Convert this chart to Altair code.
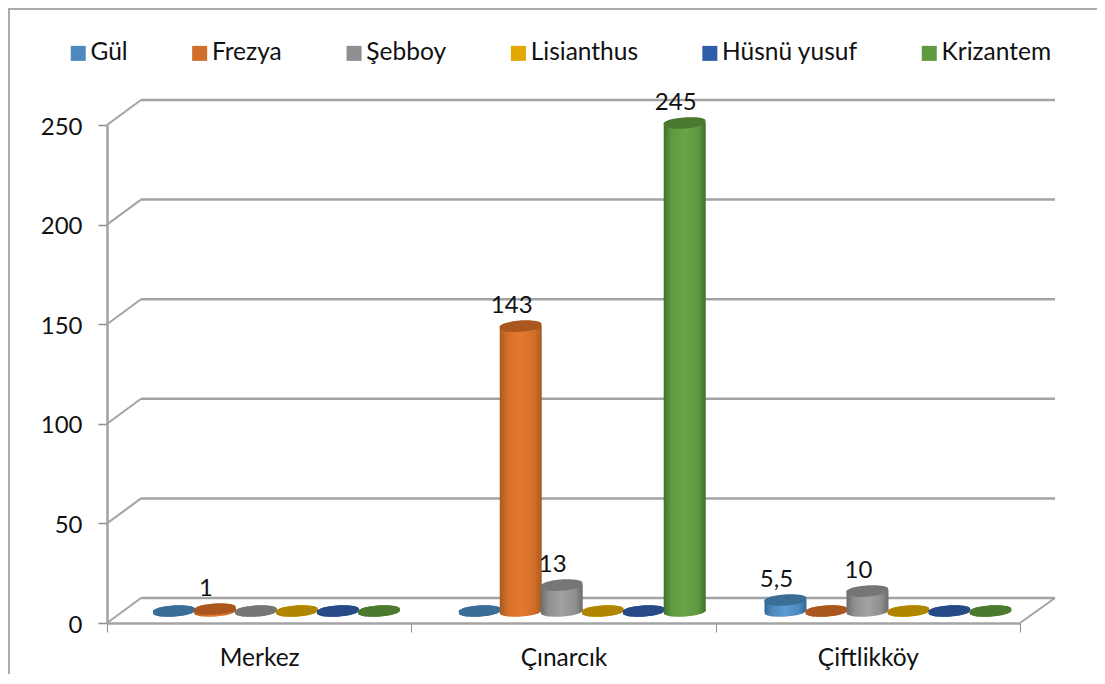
import altair as alt
import pandas as pd

categories = ["Merkez", "Çınarcık", "Çiftlikköy"]
series = ["Gül", "Frezya", "Şebboy", "Lisianthus", "Hüsnü yusuf", "Krizantem"]
values_by_series = {
    "Gül": [0, 0, 5.5],
    "Frezya": [1, 143, 0],
    "Şebboy": [0, 13, 10],
    "Lisianthus": [0, 0, 0],
    "Hüsnü yusuf": [0, 0, 0],
    "Krizantem": [0, 245, 0],
}
labels_by_series = {
    "Gül": ["", "", "5,5"],
    "Frezya": ["1", "143", ""],
    "Şebboy": ["", "13", "10"],
    "Lisianthus": ["", "", ""],
    "Hüsnü yusuf": ["", "", ""],
    "Krizantem": ["", "245", ""],
}
y_ticks = [0, 50, 100, 150, 200, 250]
mid_colors = ["#4F88BD", "#D26F2A", "#8F8F8F", "#E3A700", "#2F5CA8", "#5F9A3E"]
top_colors = ["#3A6E97", "#A9561F", "#767676", "#B08600", "#264A86", "#4B7A2F"]
edge_colors = ["#2F6A9C", "#A85A20", "#6C6C6C", "#A88000", "#1F4480", "#3F6F2E"]
light_colors = ["#5B9BD5", "#E6782F", "#A2A2A2", "#F5B800", "#3A6CC0", "#69A548"]

FONT = "Lato"
LINE = "#A3A3A3"
DEPTH = 12.55   # depth of the floor, in value units

rows = []
for s in series:
    for c, v, l in zip(categories, values_by_series[s], labels_by_series[s]):
        rows.append({"category": c, "series": s, "value": v, "label": l})
df = pd.DataFrame(rows)
ticks_df = pd.DataFrame({"tick": y_ticks})
ticks_df["back"] = ticks_df["tick"] + DEPTH

W, H = 913, 498
ELLIPSE = "M-0.98,0.07 A1,0.225 -4 1 1 0.98,-0.07 A1,0.225 -4 1 1 -0.98,0.07 Z"

# --- frame: axes, walls, floor ---
y_front = alt.Y("tick:Q", scale=alt.Scale(domain=[0, 250], nice=False),
                axis=alt.Axis(values=y_ticks, grid=False, title=None, tickSize=9,
                              tickColor="#8C8C8C", tickWidth=1.5, domainColor=LINE, domainWidth=2.5,
                              labelFont=FONT, labelFontSize=24, labelColor="#111111", labelPadding=16,
                              labelOffset=2))

axis_layer = alt.Chart(pd.DataFrame({"category": categories, "tick": [0, 0, 0]})).mark_rule(
    color=LINE, strokeWidth=2.5
).encode(
    x=alt.X("category:N", sort=categories, scale=alt.Scale(paddingInner=0, paddingOuter=0),
            axis=alt.Axis(title=None, labelAngle=0, tickBand="extent", tickSize=9, tickColor="#8C8C8C",
                          tickWidth=1, domainColor=LINE, domainWidth=2.5, labelFont=FONT,
                          labelFontSize=24.5, labelColor="#111111", labelPadding=14, grid=False)),
    y=y_front,
)

wall_base = alt.Chart(ticks_df)
back_lines = wall_base.mark_rule(color=LINE, strokeWidth=2.5).encode(
    x=alt.value(34), x2=alt.value(948), y=alt.Y("back:Q")
)
left_diag = wall_base.mark_rule(color=LINE, strokeWidth=2).encode(
    x=alt.value(0), x2=alt.value(34), y=alt.Y("tick:Q"), y2=alt.Y2("back:Q")
)
right_diag = wall_base.transform_filter("datum.tick === 0").mark_rule(color=LINE, strokeWidth=2).encode(
    x=alt.value(913), x2=alt.value(948), y=alt.Y("tick:Q"), y2=alt.Y2("back:Q")
)
border_top = alt.Chart(ticks_df.head(1)).mark_rule(color="#ABABAB", strokeWidth=2).encode(
    x=alt.value(-99), x2=alt.value(990), y=alt.value(-116)
)
border_left = alt.Chart(ticks_df.head(1)).mark_rule(color="#ABABAB", strokeWidth=2).encode(
    x=alt.value(-98), y=alt.value(-117), y2=alt.value(549)
)
frame = alt.layer(border_top, border_left, back_lines, right_diag, left_diag, axis_layer)

# --- cylinders ---
BAR_Y = alt.Scale(domain=[0, 250], range=[486, -12], nice=False)
x_bars = alt.X("category:N", sort=categories, axis=None,
               scale=alt.Scale(domain=categories, range=[16.6, 933.85], paddingInner=0, paddingOuter=0))
x_off = alt.XOffset("series:N", sort=series,
                    scale=alt.Scale(domain=series, paddingInner=0, paddingOuter=0.729))
y_bars = alt.Y("value:Q", axis=None, scale=BAR_Y)
y_zero = alt.Y("zero:Q", axis=None, scale=BAR_Y)

legend_layer = alt.Chart(df).mark_point(shape="square", filled=True, opacity=0, size=1).encode(
    x=x_bars, xOffset=x_off, y=y_zero,
    color=alt.Color("series:N", sort=series, scale=alt.Scale(domain=series, range=mid_colors),
                    legend=alt.Legend(orient="none", legendX=-41, legendY=-84, direction="horizontal",
                                      columns=6, title=None, symbolType="square", symbolSize=225,
                                      symbolStrokeWidth=0, symbolOpacity=1, labelFont=FONT,
                                      labelFontSize=24.5, labelColor="#111111", labelOffset=0,
                                      columnPadding=59.4, labelLimit=300, padding=0)),
).transform_calculate(zero="0")

layers = [legend_layer]
for s, edge, light, mid, top in zip(series, edge_colors, light_colors, mid_colors, top_colors):
    sdf = df[df["series"] == s]
    grad = alt.Gradient(gradient="linear", x1=0, x2=1, y1=0, y2=0, stops=[
        alt.GradientStop(offset=0, color=edge),
        alt.GradientStop(offset=0.18, color=mid),
        alt.GradientStop(offset=0.5, color=light),
        alt.GradientStop(offset=0.82, color=mid),
        alt.GradientStop(offset=1, color=edge),
    ])
    base = alt.Chart(sdf).transform_calculate(zero="0").mark_point(
        shape=ELLIPSE, filled=True, fill=grad, opacity=1, size=1764, strokeWidth=0
    ).encode(x=x_bars, xOffset=x_off, y=y_zero)
    body = alt.Chart(sdf[sdf["value"] > 0]).mark_bar(fill=grad, width=42, stroke=None).encode(
        x=x_bars, xOffset=x_off, y=y_bars
    )
    cap = alt.Chart(sdf).mark_point(shape=ELLIPSE, filled=True, opacity=1, size=1764, color=top).encode(
        x=x_bars, xOffset=x_off, y=y_bars
    )
    layers += [base, body, cap]

text_df = df[df["label"] != ""]
text_layer = alt.Chart(text_df).mark_text(
    font=FONT, fontSize=24, color="#111111", dx=-9, dy=-20, baseline="middle", align="center"
).encode(x=x_bars, xOffset=x_off, y=y_bars, text="label:N")
layers.append(text_layer)

cylinders = alt.layer(*layers)

chart = alt.layer(frame, cylinders).resolve_scale(x="independent", y="independent").properties(
    width=W, height=H,
    padding={"left": 99, "top": 117, "right": 77, "bottom": 51},
    autosize=alt.AutoSizeParams(type="none"),
    background="white",
).configure_view(stroke=None)

chart.save("out.html", embed_options={"renderer": "svg", "actions": False})
